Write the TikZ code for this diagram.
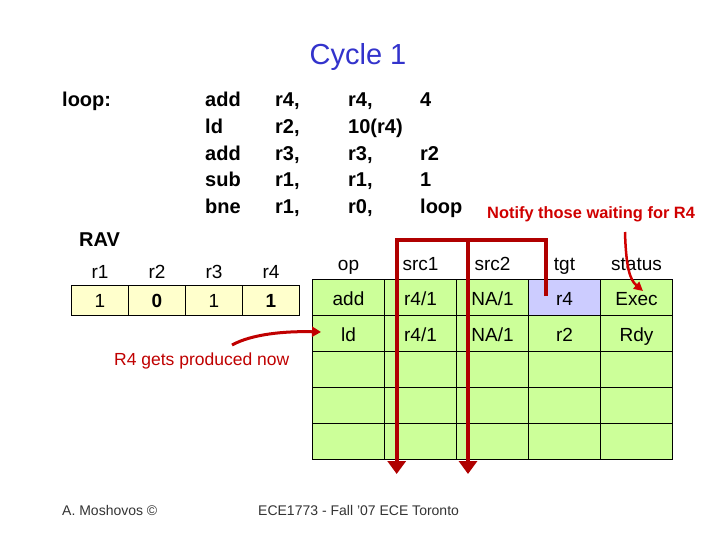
\documentclass[tikz,border=0pt]{standalone}
\usepackage{fontspec}
\setmainfont{Liberation Sans}
\usetikzlibrary{arrows.meta}
\definecolor{cellgreen}{HTML}{CCFF99}
\definecolor{cellblue}{HTML}{CCCCFF}
\definecolor{cellyellow}{HTML}{FFFFCC}
\definecolor{titleblue}{HTML}{3333CC}
\definecolor{busred}{HTML}{B00000}
\definecolor{notered}{HTML}{D00000}
\definecolor{prodred}{HTML}{C00000}
\definecolor{footgray}{HTML}{333333}
\tikzset{
  txt/.style={inner sep=0pt, anchor=base, font=\fontsize{19}{21}\selectfont},
  instr/.style={inner sep=0pt, anchor=base west, font=\fontsize{20}{22}\selectfont\bfseries},
  cell/.style={draw=black, line width=1pt, fill=cellgreen, minimum width=72pt, minimum height=36pt,
    inner sep=0pt, text height=16.5pt, text depth=1pt, font=\fontsize{19}{21}\selectfont},
  ravcell/.style={draw=black, line width=1pt, fill=cellyellow, minimum width=57pt, minimum height=30pt,
    inner sep=0pt, text height=16.5pt, text depth=1pt, font=\fontsize{19}{21}\selectfont},
  bus/.style={draw=busred, line width=4pt, line join=miter, -{Triangle[width=18pt,length=13pt]}},
  notearrow/.style={draw=notered, line width=2.5pt, -{Triangle[width=9pt,length=9pt]}},
  prodarrow/.style={draw=prodred, line width=3pt, -{Triangle[width=10pt,length=9pt]}},
}
\begin{document}
\begin{tikzpicture}[x=1pt,y=-1pt]
\useasboundingbox[fill=white] (0,0) rectangle (720,540);

% title
\node[inner sep=0pt, anchor=base, font=\fontsize{29}{31}\selectfont, text=titleblue] (title) at (358,65) {Cycle 1};

% instructions
\node[instr] (lbl) at (62,107) {loop:};
\node[instr] (i1a) at (205,107) {add};
\node[instr] (i1b) at (275,107) {r4,};
\node[instr] (i1c) at (348,107) {r4,};
\node[instr] (i1d) at (420,107) {4};
\node[instr] (i2a) at (205,134) {ld};
\node[instr] (i2b) at (275,134) {r2,};
\node[instr] (i2c) at (348,134) {10(r4)};
\node[instr] (i3a) at (205,160.5) {add};
\node[instr] (i3b) at (275,160.5) {r3,};
\node[instr] (i3c) at (348,160.5) {r3,};
\node[instr] (i3d) at (420,160.5) {r2};
\node[instr] (i4a) at (205,187) {sub};
\node[instr] (i4b) at (275,187) {r1,};
\node[instr] (i4c) at (348,187) {r1,};
\node[instr] (i4d) at (420,187) {1};
\node[instr] (i5a) at (205,213.5) {bne};
\node[instr] (i5b) at (275,213.5) {r1,};
\node[instr] (i5c) at (348,213.5) {r0,};
\node[instr] (i5d) at (420,213.5) {loop};

% RAV
\node[instr] (rav) at (79,246) {RAV};
\node[txt] (rh1) at (100,278.5) {r1};
\node[txt] (rh2) at (157,278.5) {r2};
\node[txt] (rh3) at (214,278.5) {r3};
\node[txt] (rh4) at (271,278.5) {r4};
\node[ravcell] (rv1) at (100,300) {1};
\node[ravcell] (rv2) at (157,300) {\bfseries 0};
\node[ravcell] (rv3) at (214,300) {1};
\node[ravcell] (rv4) at (271,300) {\bfseries 1};

% scheduler table headers
\node[txt] (hop) at (348.5,270) {op};
\node[txt] (hs1) at (420.5,270) {src1};
\node[txt] (hs2) at (492.5,270) {src2};
\node[txt] (htg) at (564.5,270) {tgt};
\node[txt] (hst) at (636.5,270) {status};

% table cells
\node[cell] (t11) at (348.5,297.5) {add};
\node[cell] (t12) at (420.5,297.5) {r4/1};
\node[cell] (t13) at (492.5,297.5) {NA/1};
\node[cell, fill=cellblue] (t14) at (564.5,297.5) {r4};
\node[cell] (t15) at (636.5,297.5) {Exec};
\node[cell] (t21) at (348.5,333.5) {ld};
\node[cell] (t22) at (420.5,333.5) {r4/1};
\node[cell] (t23) at (492.5,333.5) {NA/1};
\node[cell] (t24) at (564.5,333.5) {r2};
\node[cell] (t25) at (636.5,333.5) {Rdy};
\foreach \r/\y in {3/369.5,4/405.5,5/441.5}{
  \foreach \c/\x in {1/348.5,2/420.5,3/492.5,4/564.5,5/636.5}{
    \node[cell] (t\r\c) at (\x,\y) {};
  }
}

% broadcast bus
\coordinate (busstart) at (546,296);
\coordinate (bustop) at (546,240);
\coordinate (corner) at (396.7,240);
\coordinate (end1) at (396.7,474);
\coordinate (branch) at (468,240);
\coordinate (end2) at (468,474);
\draw[bus] (busstart) -- (bustop) -- (corner) -- (end1);
\draw[bus] (branch) -- (end2);

% notes
\node[inner sep=0pt, anchor=base west, font=\fontsize{16.4}{18}\selectfont\bfseries, text=notered] (notify) at (487,218.5) {Notify those waiting for R4};
\coordinate (notestart) at (625,232);
\coordinate (noteend) at (643,291);
\draw[notearrow] (notestart) .. controls (626,268) and (630,280) .. (noteend);

\node[inner sep=0pt, anchor=base west, font=\fontsize{17.5}{19}\selectfont, text=prodred] (prod) at (114,365) {R4 gets produced now};
\coordinate (prodstart) at (232,345);
\coordinate (prodend) at (321,332);
\draw[prodarrow] (prodstart) .. controls (252,334) and (285,331) .. (prodend);

% footer
\node[inner sep=0pt, anchor=base west, font=\fontsize{14}{16}\selectfont, text=footgray] (author) at (62,515) {A. Moshovos ©};
\node[inner sep=0pt, anchor=base west, font=\fontsize{14}{16}\selectfont, text=footgray] (course) at (258,515) {ECE1773 - Fall '07 ECE Toronto};
\end{tikzpicture}
\end{document}
